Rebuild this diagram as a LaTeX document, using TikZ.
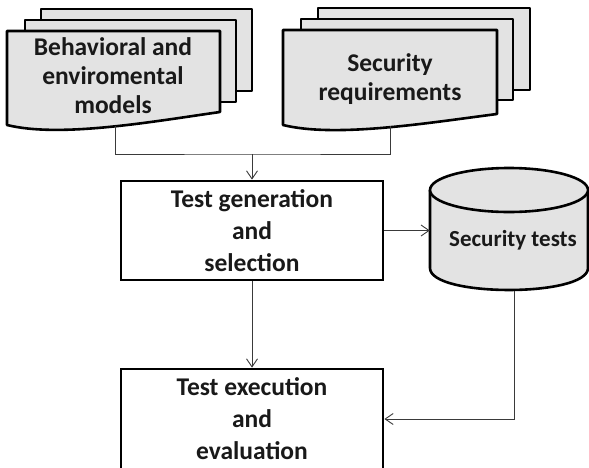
\documentclass[tikz,border=0pt]{standalone}
\usepackage{fontspec}
\setmainfont{Carlito}
\usetikzlibrary{arrows.meta}
\definecolor{pagefill}{HTML}{E3E3E3}
\definecolor{wirecol}{HTML}{3A3A3A}

\begin{document}
\begin{tikzpicture}[x=1pt,y=-1pt,
  outline/.style={draw=black,line width=2.6pt,fill=pagefill,line join=round},
  txt/.style={font=\fontsize{25.5}{29}\selectfont\bfseries,align=center,inner sep=0pt,text=black!90},
  stepbox/.style={draw=black,line width=2.8pt,fill=white,minimum width=262pt,inner sep=0pt,
    font=\fontsize{25.5}{32}\selectfont\bfseries,align=center,text=black!90},
  wire/.style={draw=wirecol,line width=0.9pt},
  flow/.style={wire,-{Straight Barb[length=8pt,width=11pt]}}]

\useasboundingbox (0,0) rectangle (589,467);

% left stack of model documents
\draw[outline] (41,9) rectangle (252,91);
\draw[outline] (25,20) rectangle (236,102);
\draw[outline] (7,31) -- (220,31) -- (220,112)
  .. controls (150,122) and (60,138) .. (7,125) -- cycle;
\node[txt] (models) at (113,76) {Behavioral and\\enviromental\\models};

% right stack of requirement documents
\draw[outline] (318,8) rectangle (530,90);
\draw[outline] (301,19) rectangle (513,100);
\draw[outline] (283,30) -- (497,30) -- (497,114)
  .. controls (427,123) and (336,138) .. (283,125) -- cycle;
\node[txt] (reqs) at (390,79) {Security\\requirements};

% test store cylinder
\fill[pagefill] (430,190) -- (430,268) .. controls (430,297.3) and (588,297.3) .. (588,268) -- (588,190) -- cycle;
\draw[line width=2.6pt] (430,190) -- (430,268) .. controls (430,297.3) and (588,297.3) .. (588,268) -- (588,190);
\draw[outline] (509,190) ellipse [x radius=79, y radius=22];
\node[minimum width=158pt,minimum height=122pt,inner sep=0pt] (store) at (509,230) {};
\node[txt,font=\fontsize{23}{28}\selectfont\bfseries] (storelabel) at (513,240) {Security tests};

% process boxes
\node[stepbox,minimum height=99pt] (gen) at (252,230.5) {Test generation\\and\\selection};
\node[stepbox,minimum height=100pt] (run) at (252,419) {Test execution\\and\\evaluation};

% connectors
\coordinate (lsrc) at (115,126);
\coordinate (rsrc) at (390,126);
\coordinate (merge) at (252,154);
\draw[wire] (lsrc) |- (merge) -| (rsrc);
\draw[flow] (merge) -- (gen.north);
\draw[flow] (gen.east) -- (gen.east -| store.west);
\draw[flow] (gen.south) -- (run.north);
\draw[flow] ([xshift=5pt]store.south) |- (run.east);
\end{tikzpicture}
\end{document}
